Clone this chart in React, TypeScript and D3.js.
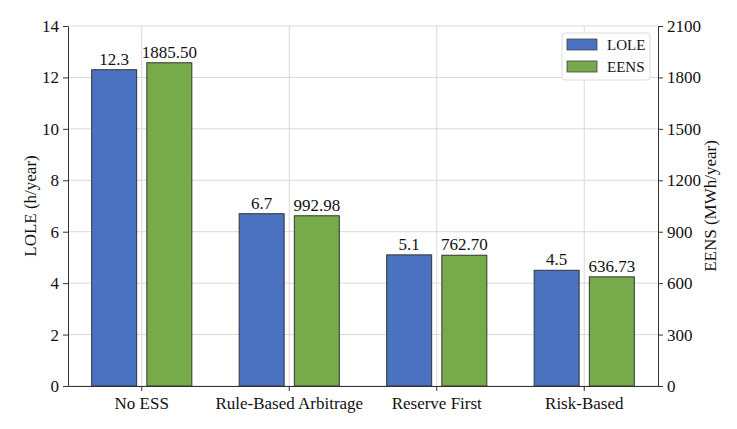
import { useRef, useEffect } from 'react';
import * as d3 from 'd3';

const WIDTH = 737;
const HEIGHT = 429;
const MARGIN = { top: 26, right: 79, bottom: 43, left: 68 };

const categories = ['No ESS', 'Rule-Based Arbitrage', 'Reserve First', 'Risk-Based'];
const loleValues = [12.3, 6.7, 5.1, 4.5];
const eensValues = [1885.5, 992.98, 762.7, 636.73];
const loleTicks = [0, 2, 4, 6, 8, 10, 12, 14];
const eensTicks = [0, 300, 600, 900, 1200, 1500, 1800, 2100];

const BLUE = '#4a72c0';
const GREEN = '#76aa4a';
const FONT = "'Liberation Serif', 'Times New Roman', serif";

const App = () => {
	const ref = useRef<SVGSVGElement>(null);

	useEffect(() => {
		const svg = d3.select(ref.current);
		svg.selectAll('*').remove();

		const w = WIDTH - MARGIN.left - MARGIN.right;
		const h = HEIGHT - MARGIN.top - MARGIN.bottom;

		const x = d3.scaleBand().domain(categories).range([0, w]);
		const yL = d3.scaleLinear().domain([0, 14]).range([h, 0]);
		const yR = d3.scaleLinear().domain([0, 2100]).range([h, 0]);

		const barW = x.bandwidth() * 0.305;
		const offset = x.bandwidth() * 0.187;
		const cx = (c: string) => (x(c) as number) + x.bandwidth() / 2;

		svg.append('rect').attr('width', WIDTH).attr('height', HEIGHT).attr('fill', '#fff');

		const g = svg.append('g').attr('transform', `translate(${MARGIN.left},${MARGIN.top})`);

		// grid
		g.append('g')
			.selectAll('line')
			.data(loleTicks)
			.join('line')
			.attr('x1', 0)
			.attr('x2', w)
			.attr('y1', d => yL(d))
			.attr('y2', d => yL(d))
			.attr('stroke', '#d9d9d9')
			.attr('stroke-width', 1);
		g.append('g')
			.selectAll('line')
			.data(categories)
			.join('line')
			.attr('x1', d => cx(d))
			.attr('x2', d => cx(d))
			.attr('y1', 0)
			.attr('y2', h)
			.attr('stroke', '#d9d9d9')
			.attr('stroke-width', 1);

		// bars
		g.append('g')
			.selectAll('rect')
			.data(categories)
			.join('rect')
			.attr('x', (d) => cx(d) - offset - barW / 2)
			.attr('y', (_, i) => yL(loleValues[i]))
			.attr('width', barW)
			.attr('height', (_, i) => h - yL(loleValues[i]))
			.attr('fill', BLUE)
			.attr('stroke', '#333')
			.attr('stroke-width', 1);
		g.append('g')
			.selectAll('rect')
			.data(categories)
			.join('rect')
			.attr('x', (d) => cx(d) + offset - barW / 2)
			.attr('y', (_, i) => yR(eensValues[i]))
			.attr('width', barW)
			.attr('height', (_, i) => h - yR(eensValues[i]))
			.attr('fill', GREEN)
			.attr('stroke', '#333')
			.attr('stroke-width', 1);

		// value labels
		g.append('g')
			.selectAll('text')
			.data(categories)
			.join('text')
			.attr('x', d => cx(d) - offset)
			.attr('y', (_, i) => yL(loleValues[i]) - 5)
			.attr('text-anchor', 'middle')
			.style('font-family', FONT)
			.attr('font-size', 17)
			.attr('fill', '#111')
			.text((_, i) => loleValues[i].toFixed(1));
		g.append('g')
			.selectAll('text')
			.data(categories)
			.join('text')
			.attr('x', d => cx(d) + offset)
			.attr('y', (_, i) => yR(eensValues[i]) - 5)
			.attr('text-anchor', 'middle')
			.style('font-family', FONT)
			.attr('font-size', 17)
			.attr('fill', '#111')
			.text((_, i) => eensValues[i].toFixed(2));

		// axes
		const styleAxis = (sel: d3.Selection<SVGGElement, unknown, null, undefined>) => {
			sel.attr('font-family', null);
			sel.selectAll('text').style('font-family', FONT).attr('font-size', 17).attr('fill', '#111');
			sel.selectAll('line').attr('stroke', '#333');
			sel.select('.domain').attr('stroke', '#333');
		};

		g.append('g')
			.call(d3.axisLeft(yL).tickValues(loleTicks).tickFormat(d3.format('d')).tickSize(5).tickPadding(4).tickSizeOuter(0))
			.call(styleAxis);
		g.append('g')
			.attr('transform', `translate(${w},0)`)
			.call(d3.axisRight(yR).tickValues(eensTicks).tickFormat(d3.format('d')).tickSize(5).tickPadding(4).tickSizeOuter(0))
			.call(styleAxis);
		g.append('g')
			.attr('transform', `translate(0,${h})`)
			.call(d3.axisBottom(x).tickSize(5).tickPadding(6).tickSizeOuter(0))
			.call(styleAxis);

		// axis titles
		svg.append('text')
			.attr('transform', `translate(36,${MARGIN.top + h / 2}) rotate(-90)`)
			.attr('text-anchor', 'middle')
			.style('font-family', FONT)
			.attr('font-size', 17)
			.attr('fill', '#111')
			.text('LOLE (h/year)');
		svg.append('text')
			.attr('transform', `translate(716,${MARGIN.top + h / 2}) rotate(-90)`)
			.attr('text-anchor', 'middle')
			.style('font-family', FONT)
			.attr('font-size', 17)
			.attr('fill', '#111')
			.text('EENS (MWh/year)');

		// legend
		const lg = g.append('g').attr('transform', `translate(${w - 96},7)`);
		lg.append('rect')
			.attr('width', 88)
			.attr('height', 47)
			.attr('rx', 3)
			.attr('fill', '#fff')
			.attr('fill-opacity', 0.85)
			.attr('stroke', '#ddd');
		[['LOLE', BLUE], ['EENS', GREEN]].forEach(([name, color], i) => {
			lg.append('rect')
				.attr('x', 5)
				.attr('y', 6 + i * 22)
				.attr('width', 30)
				.attr('height', 11)
				.attr('fill', color)
				.attr('stroke', '#444')
				.attr('stroke-width', 0.8);
			lg.append('text')
				.attr('x', 45)
				.attr('y', 17 + i * 22)
				.style('font-family', FONT)
				.attr('font-size', 15)
				.attr('fill', '#111')
				.text(name);
		});
	}, []);

	return (
		<svg
			ref={ref}
			width={WIDTH}
			height={HEIGHT}
			style={{ position: 'absolute', left: 0, top: 0, display: 'block', fontFamily: FONT }}
		/>
	);
};

export default App;
